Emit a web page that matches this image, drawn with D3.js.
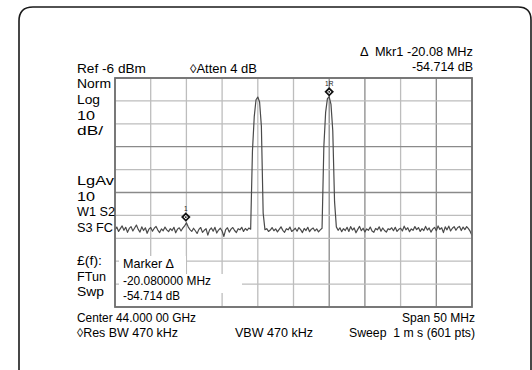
<!DOCTYPE html>
<html><head><meta charset="utf-8">
<script src="https://cdn.jsdelivr.net/npm/d3@7"></script>
<style>html,body{margin:0;padding:0;background:#fff;}svg{display:block;}text{white-space:pre;}</style>
</head><body>
<script>
// ---- data ----
const spanMHz = [-25, 25];           // offset from centre 44.000 00 GHz
const refLevels = [-6, -106];        // dBm, top / bottom of screen
const stepMHz = 0.25;
const traceDbm = [
 -72.4,-71.1,-73.0,-71.8,-70.6,-72.5,-71.2,-73.4,-71.7,-70.9,
 -72.8,-71.5,-70.2,-72.1,-73.3,-71.0,-72.6,-71.4,-73.8,-72.0,
 -71.3,-72.9,-71.6,-70.8,-72.4,-73.5,-71.9,-72.7,-71.1,-72.3,
 -73.1,-71.8,-72.6,-71.2,-73.6,-72.0,-71.4,-72.8,-71.5,-70.6,
 -69.2,-71.0,-72.2,-73.0,-71.6,-72.7,-73.9,-72.1,-71.3,-73.4,
 -72.5,-71.8,-74.6,-72.3,-71.5,-72.9,-71.2,-73.7,-72.4,-71.6,
 -72.8,-75.2,-72.2,-71.4,-73.3,-72.0,-71.3,-72.6,-73.5,-71.8,
 -72.3,-71.2,-73.0,-71.7,-72.5,-71.5,-72.0,-38.0,-23.0,-15.5,
 -14.3,-16.5,-27.0,-65.0,-72.2,-71.8,-73.0,-72.4,-71.3,-72.7,
 -71.9,-73.2,-72.1,-71.0,-72.5,-73.4,-71.8,-72.3,-71.1,-73.0,
 -72.4,-71.6,-72.9,-71.3,-72.2,-73.5,-71.7,-72.6,-71.2,-73.1,
 -72.0,-71.5,-72.8,-71.9,-73.2,-72.3,-71.6,-36.0,-21.0,-15.0,
 -14.2,-17.5,-29.0,-60.0,-71.0,-72.5,-71.4,-73.1,-71.8,-72.6,
 -71.2,-73.0,-70.9,-72.4,-71.5,-73.6,-72.1,-70.8,-72.7,-71.6,
 -73.2,-71.9,-72.5,-71.1,-72.8,-73.4,-71.7,-72.3,-71.0,-72.9,
 -71.5,-72.6,-73.3,-71.8,-72.2,-71.4,-72.7,-71.2,-73.0,-72.1,
 -71.6,-72.8,-70.7,-72.3,-71.4,-73.1,-71.9,-72.5,-70.9,-72.2,
 -71.3,-73.0,-71.8,-72.6,-70.8,-72.4,-71.5,-73.3,-72.0,-71.2,
 -72.7,-70.6,-72.1,-71.4,-73.5,-71.0,-72.3,-70.7,-72.8,-71.6,
 -70.9,-72.5,-71.3,-70.8,-72.6,-71.1,-72.2,-70.9,-71.8,-73.0,-74.8
];
const markerNames = ["1R", "1"];
const markerMHz = [5.0, -15.08];
const markerDbm = [-14.2, -68.914];
const darkVLines = [5, 10, 20];      // MHz offsets drawn darker
const darkHLines = [-36, -56];       // dBm lines drawn darker

const topLeftText = ["Ref -6 dBm", "\u25CAAtten 4 dB"];
const topRightText = ["\u0394  Mkr1 -20.08 MHz", "-54.714 dB"];
const sideText = ["Norm","Log","10","dB/","LgAv","10","W1 S2","S3 FC","\u00A3(f):","FTun","Swp"];
const readoutText = ["Marker \u0394", "-20.080000 MHz", "-54.714 dB"];
const bottomText = ["Center 44.000 00 GHz", "\u25CARes BW 470 kHz", "VBW 470 kHz", "Span 50 MHz", "Sweep  1 m s (601 pts)"];

// ---- drawing ----
const W = 532, H = 370;
const svg = d3.select("body").append("svg").attr("width", W).attr("height", H);
const x = d3.scaleLinear().domain(spanMHz).range([115, 472]);
const y = d3.scaleLinear().domain(refLevels).range([78, 307]);

// card outline
svg.append("path")
  .attr("d", "M19,380 L19,21 Q19,7 33,7 L518,7 Q531,7 531,20 L531,380")
  .attr("fill", "none").attr("stroke", "#1a1a1a").attr("stroke-width", 1.6);

const g = svg.append("g");
const xt = d3.range(spanMHz[0], spanMHz[1] + 0.01, 5);
const yt = d3.range(refLevels[0], refLevels[1] - 0.01, -10);
g.selectAll(".vl").data(xt).join("line")
  .attr("x1", d => x(d)).attr("x2", d => x(d)).attr("y1", y(refLevels[0])).attr("y2", y(refLevels[1]))
  .attr("stroke", d => darkVLines.includes(d) ? "#8a8a8a" : "#bdbdbd").attr("stroke-width", 1.3);
g.selectAll(".hl").data(yt).join("line")
  .attr("y1", d => y(d)).attr("y2", d => y(d)).attr("x1", x(spanMHz[0])).attr("x2", x(spanMHz[1]))
  .attr("stroke", d => darkHLines.includes(d) ? "#8a8a8a" : "#bdbdbd").attr("stroke-width", 1.3);

// trace
const line = d3.line().x((d, i) => x(spanMHz[0] + i * stepMHz)).y(d => y(d));
g.append("path").datum(traceDbm).attr("d", line)
  .attr("fill", "none").attr("stroke", "#4a4a4a").attr("stroke-width", 1.2).attr("stroke-linejoin", "round");

// markers
markerMHz.forEach((f, i) => {
  const cx = x(f), cy = y(markerDbm[i]) - 5;
  g.append("path").attr("d", `M${cx},${cy-3.5} L${cx+3.5},${cy} L${cx},${cy+3.5} L${cx-3.5},${cy} Z`)
    .attr("fill", "#fff").attr("stroke", "#111").attr("stroke-width", 1.8);
  g.append("circle").attr("cx", cx).attr("cy", cy).attr("r", 0.9).attr("fill", "#111");
  g.append("text").attr("x", cx).attr("y", cy - 6).attr("text-anchor", "middle")
    .attr("font-family", "Liberation Sans, Arial, sans-serif").attr("font-size", 6.5).attr("fill", "#222")
    .text(markerNames[i]);
});

// readout background
const bg = [[119, 256, 67, 18], [119, 274, 123, 19], [119, 292, 97, 14]];
g.selectAll(".bg").data(bg).join("rect")
  .attr("x", d => d[0]).attr("y", d => d[1]).attr("width", d => d[2]).attr("height", d => d[3]).attr("fill", "#fff");

// frame
g.append("rect").attr("x", 115).attr("y", 78).attr("width", 357).attr("height", 229)
  .attr("fill", "none").attr("stroke", "#6f6f6f").attr("stroke-width", 1.8);

// texts
const FONT = "Liberation Sans, Arial, sans-serif";
function txt(s, xx, yy, len, anchor) {
  const t = svg.append("text").attr("x", xx).attr("y", yy).attr("font-family", FONT)
    .attr("font-size", 12.6).attr("fill", "#000").attr("text-anchor", anchor || "start")
    .attr("xml:space", "preserve").text(s);
  if (len) t.attr("textLength", len).attr("lengthAdjust", "spacingAndGlyphs");
  return t;
}
txt(topLeftText[0], 77, 73, 69);
txt(topLeftText[1], 190, 73, 67);
txt(topRightText[0], 473, 56, 113, "end");
txt(topRightText[1], 473, 71, 61, "end");
const sideY = [88, 104, 119.5, 135, 185, 200.5, 216, 232, 265, 280.5, 296];
const sideW = [34, 23, 18, 26, 37, 18, 38, 36, 25, 29, 27];
sideText.forEach((s, i) => txt(s, 77, sideY[i], sideW[i]));
txt(readoutText[0], 123, 268, 51);
txt(readoutText[1], 123, 285, 88);
txt(readoutText[2], 123, 300, 57);
txt(bottomText[0], 77, 322, 119);
txt(bottomText[1], 77, 337, 101);
txt(bottomText[2], 235, 337, 78);
txt(bottomText[3], 475, 322, 73, "end");
txt(bottomText[4], 475, 337, 126, "end");
</script>
</body></html>
